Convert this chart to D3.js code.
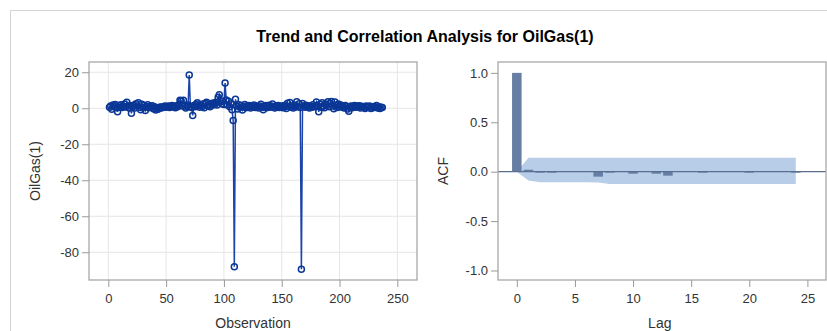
<!DOCTYPE html>
<html>
<head>
<meta charset="utf-8">
<script src="https://cdn.jsdelivr.net/npm/d3@7"></script>
<style>
  body { margin: 0; background: #fff; }
  svg { display: block; font-family: "Liberation Sans", Arial, sans-serif; }
  .tick text { fill: #333; font-size: 13px; }
  .tick line { stroke: #999; }
  .axislabel { fill: #333; font-size: 14px; }
</style>
</head>
<body>
<script>
// differenced OilGas series, observations 1..237
var oilgas = [
  0.5, 1.2, -0.5, 1.8, 0.8, 2.1, 0.3, -2.0, 1.5, 0.6,
  1.9, 0.4, 1.1, 2.3, 0.7, 3.4, 1.2, 0.2, 1.6, -2.8,
  0.9, 1.7, 0.1, 2.5, 1.3, 3.0, 0.6, -0.8, 2.2, 0.4,
  1.5, -1.2, 0.8, 1.9, 0.3, 1.1, 0.5, 1.4, -0.3, 0.9,
  -1.0, 0.2, -0.6, 0.4, 0.7, 0.1, 0.9, 0.5, 1.2, 0.6,
  0.8, 1.3, 0.4, 1.0, 1.6, 0.7, 1.1, 0.3, 1.4, 0.9,
  2.0, 4.5, 4.2, 1.2, 4.4, 1.5, 0.2, 0.9, 1.8, 18.5,
  1.0, 0.4, -4.0, 1.6, 0.8, 2.2, 3.1, 1.4, 0.6, 1.9,
  1.0, 2.4, 0.3, 2.8, 3.3, 1.2, 2.0, 0.9, 2.6, 1.7,
  2.9, 2.2, 3.4, 1.8, 6.1, 7.5, 4.2, 2.5, 3.8, 2.1,
  14.0, 4.6, 1.8, 3.9, 0.9, 2.4, -0.8, -6.8, -88.0, 5.0,
  1.2, -0.4, 2.0, 0.6, 1.5, -1.0, 0.8, 2.1, 0.3, 1.4,
  0.7, 1.6, 0.2, 1.1, 0.5, 1.8, 0.4, 1.2, 0.9, 0.1,
  1.3, 2.2, 0.6, -0.8, 1.0, 1.5, 0.3, 0.8, 1.7, 0.5,
  1.1, 2.4, 0.7, 0.2, 1.4, 0.9, 1.6, 0.4, 1.2, 0.8,
  0.3, 1.5, 0.9, -0.2, 2.8, 1.1, 3.2, 0.6, 1.3, 0.2,
  1.8, 0.7, 3.6, 1.0, 2.5, 0.4, -89.4, 2.6, 1.2, 0.5,
  1.7, 0.8, 1.4, 0.2, 1.1, 0.6, 1.9, 0.9, 1.3, 3.5,
  1.4, -2.0, 2.2, 0.5, 3.0, 1.1, 0.3, 2.4, 1.6, 3.6,
  0.8, 2.7, 3.8, 1.2, -0.3, 3.5, 1.5, 0.4, 2.3, 1.0,
  1.8, 0.6, 1.2, 0.2, 1.5, 0.9, -0.4, -1.6, 0.7, 1.3,
  0.3, 1.0, 1.6, 0.5, 1.2, 0.8, 1.4, 0.2, 1.1, 0.6,
  0.9, -0.2, 1.3, 0.4, 0.8, 1.2, -0.1, 0.7, 0.3, 1.0,
  0.5, 1.6, 0.2, 0.9, -0.1, 0.6, 0.4
];

// autocorrelations, lags 0..24
var acf = [1.0, 0.02, -0.01, -0.01, 0.0, 0.005, 0.0, -0.05, -0.01, 0.005,
           -0.02, 0.0, -0.02, -0.04, 0.0, 0.005, -0.01, 0.0, 0.0, 0.0,
           -0.01, 0.0, 0.0, 0.0, -0.01];
// two standard error band
var bandUpper = [0, 0.14, 0.14, 0.14, 0.14, 0.14, 0.14, 0.14, 0.14, 0.14,
                 0.14, 0.14, 0.14, 0.14, 0.14, 0.14, 0.14, 0.14, 0.14, 0.14,
                 0.14, 0.14, 0.14, 0.14, 0.14];
var bandLower = [0, -0.09, -0.108, -0.108, -0.108, -0.108, -0.108, -0.11, -0.125, -0.125,
                 -0.125, -0.125, -0.125, -0.125, -0.125, -0.125, -0.125, -0.125, -0.125, -0.125,
                 -0.125, -0.125, -0.125, -0.125, -0.125];

var obsTicks = [0, 50, 100, 150, 200, 250];
var valTicks = [20, 0, -20, -40, -60, -80];
var lagTicks = [0, 5, 10, 15, 20, 25];
var acfTicks = [1.0, 0.5, 0.0, -0.5, -1.0];

// plain hyphen for negatives, like the original output
var fmtInt = d => d3.format("d")(d).replace("\u2212", "-");
var fmt1 = d => d3.format(".1f")(d).replace("\u2212", "-");

var W = 827, H = 331;
var svg = d3.select("body").append("svg").attr("width", W).attr("height", H);

// outer graph border
svg.append("rect").attr("x", 10.5).attr("y", 10.5).attr("width", 830).attr("height", 340)
  .attr("fill", "none").attr("stroke", "#d4d4d4");

svg.append("text")
  .attr("x", 425).attr("y", 42)
  .attr("text-anchor", "middle")
  .style("font-size", "16px").style("font-weight", "bold").attr("fill", "#000")
  .text("Trend and Correlation Analysis for OilGas(1)");

// ---- left panel: series plot
var L = { left: 89, right: 417, top: 62, bottom: 280 };
var x1 = d3.scaleLinear().domain([-16.7, 267]).range([L.left, L.right]);
var y1 = d3.scaleLinear().domain([-95.4, 25.7]).range([L.bottom, L.top]);

var g1 = svg.append("g");
// grid
g1.selectAll("line.vg").data(obsTicks).enter().append("line")
  .attr("x1", d => x1(d)).attr("x2", d => x1(d))
  .attr("y1", L.top).attr("y2", L.bottom)
  .attr("stroke", "#e6e6e6");
g1.selectAll("line.hg").data(valTicks).enter().append("line")
  .attr("y1", d => y1(d)).attr("y2", d => y1(d))
  .attr("x1", L.left).attr("x2", L.right)
  .attr("stroke", "#e6e6e6");

var line = d3.line().x((d, i) => x1(i + 1)).y(d => y1(d));
g1.append("path").datum(oilgas)
  .attr("d", line).attr("fill", "none")
  .attr("stroke", "#1c44a8").attr("stroke-width", 1.5);
g1.selectAll("circle").data(oilgas).enter().append("circle")
  .attr("cx", (d, i) => x1(i + 1)).attr("cy", d => y1(d))
  .attr("r", 3).attr("fill", "none")
  .attr("stroke", "#0a3796").attr("stroke-width", 1.5);

g1.append("rect").attr("x", L.left).attr("y", L.top)
  .attr("width", L.right - L.left).attr("height", L.bottom - L.top)
  .attr("fill", "none").attr("stroke", "#a8a8a8").attr("stroke-width", 1.3);

g1.append("g").attr("transform", "translate(" + L.left + ",0)")
  .call(d3.axisLeft(y1).tickValues(valTicks).tickFormat(fmtInt).tickSize(7).tickPadding(3))
  .call(g => g.select(".domain").remove());
g1.append("g").attr("transform", "translate(0," + L.bottom + ")")
  .call(d3.axisBottom(x1).tickValues(obsTicks).tickFormat(fmtInt).tickSize(7).tickPadding(7))
  .call(g => g.select(".domain").remove());

g1.append("text").attr("class", "axislabel")
  .attr("transform", "translate(40," + (L.top + L.bottom) / 2 + ") rotate(-90)")
  .attr("text-anchor", "middle").text("OilGas(1)");
g1.append("text").attr("class", "axislabel")
  .attr("x", (L.left + L.right) / 2).attr("y", 328)
  .attr("text-anchor", "middle").text("Observation");

// ---- right panel: ACF
var R = { left: 498, right: 826, top: 62, bottom: 280 };
var x2 = d3.scaleLinear().domain([-1.62, 26.6]).range([R.left, R.right]);
var y2 = d3.scaleLinear().domain([-1.096, 1.11]).range([R.bottom, R.top]);

var g2 = svg.append("g");
var band = d3.area()
  .x((d, i) => x2(i))
  .y0((d, i) => y2(bandLower[i]))
  .y1((d, i) => y2(bandUpper[i]));
g2.append("path").datum(bandUpper)
  .attr("d", band).attr("fill", "#b7cde8");

var bw = x2(0.82) - x2(0);
g2.selectAll("rect.bar").data(acf).enter().append("rect")
  .attr("class", "bar")
  .attr("x", (d, i) => x2(i) - bw / 2)
  .attr("y", d => y2(Math.max(0, d)))
  .attr("width", bw)
  .attr("height", d => Math.abs(y2(d) - y2(0)))
  .attr("fill", "#667ea3");

g2.append("line")
  .attr("x1", R.left).attr("x2", R.right)
  .attr("y1", y2(0)).attr("y2", y2(0))
  .attr("stroke", "#5a6e8e").attr("stroke-width", 1.2);

g2.append("rect").attr("x", R.left).attr("y", R.top)
  .attr("width", R.right - R.left).attr("height", R.bottom - R.top)
  .attr("fill", "none").attr("stroke", "#a8a8a8").attr("stroke-width", 1.3);

g2.append("g").attr("transform", "translate(" + R.left + ",0)")
  .call(d3.axisLeft(y2).tickValues(acfTicks).tickFormat(fmt1).tickSize(7).tickPadding(3))
  .call(g => g.select(".domain").remove());
g2.append("g").attr("transform", "translate(0," + R.bottom + ")")
  .call(d3.axisBottom(x2).tickValues(lagTicks).tickFormat(fmtInt).tickSize(7).tickPadding(7))
  .call(g => g.select(".domain").remove());

g2.append("text").attr("class", "axislabel")
  .attr("transform", "translate(448," + (R.top + R.bottom) / 2 + ") rotate(-90)")
  .attr("text-anchor", "middle").text("ACF");
g2.append("text").attr("class", "axislabel")
  .attr("x", x2(12.3)).attr("y", 328)
  .attr("text-anchor", "middle").text("Lag");
</script>
</body>
</html>
